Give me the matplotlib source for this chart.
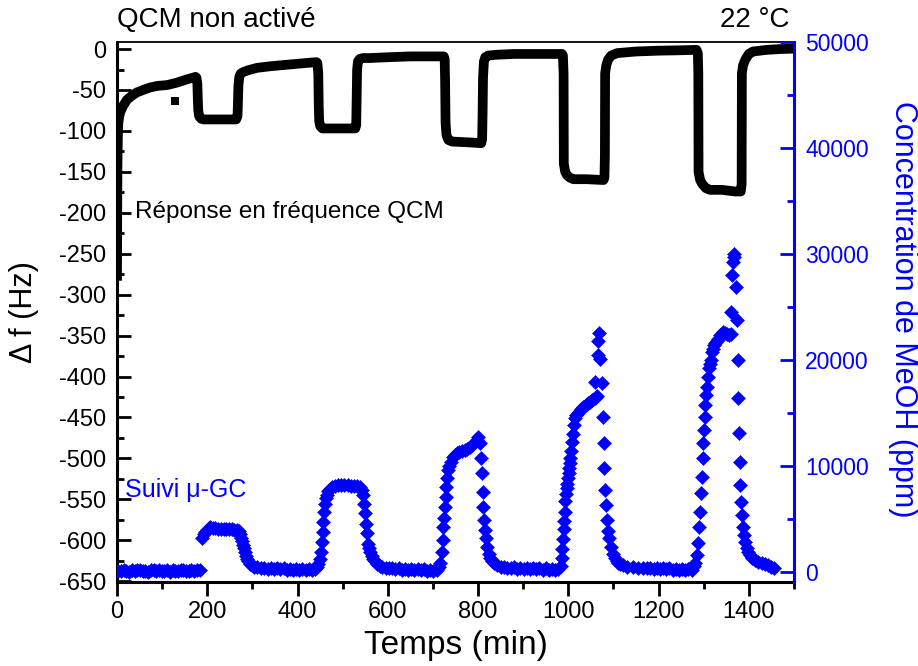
import numpy as np
import matplotlib.pyplot as plt
from matplotlib.ticker import MultipleLocator

plt.rcParams['font.family'] = ['Liberation Sans', 'DejaVu Sans']
plt.rcParams['axes.unicode_minus'] = False

# Réponse en fréquence QCM (min, Hz)
qcm_time = ([0, 0.5, 1, 2, 3, 5, 8, 13, 22, 33, 44, 58, 73, 90, 111, 133, 155, 168, 174]
            + [176, 178, 179, 180, 182, 186, 192, 220, 250, 264, 267, 268, 269, 271, 274, 280]
            + [290, 310, 340, 380, 420, 442]
            + [444, 446, 447, 448, 450, 455, 462, 500, 528, 530, 531, 532, 534, 538, 545]
            + [560, 600, 650, 700, 724]
            + [726, 727, 728, 730, 734, 742, 780, 807, 809, 810, 811, 813, 816, 822]
            + [840, 880, 930, 986]
            + [988, 989.5, 990, 993, 997, 1003, 1011, 1040, 1078, 1080, 1081, 1081.5, 1084, 1088, 1095, 1108]
            + [1150, 1200, 1250, 1284]
            + [1287, 1288, 1288.5, 1292, 1297, 1305, 1314, 1340, 1370, 1382, 1384, 1384.5, 1387, 1392, 1400, 1409]
            + [1440, 1470, 1500])
qcm_df = ([-283, -200, -140, -105, -90, -82, -76, -70, -62, -57, -53, -50, -47, -45, -44, -41, -37, -35, -34]
          + [-35, -42, -60, -75, -82, -85, -86, -86, -86, -86, -82, -65, -45, -34, -30, -28]
          + [-26, -23, -21, -19, -17, -16]
          + [-17, -30, -70, -88, -94, -97, -97, -97, -97, -93, -60, -25, -15, -12, -11]
          + [-11, -10, -9, -9, -9]
          + [-12, -40, -90, -105, -111, -113, -114, -115, -110, -80, -35, -15, -10, -8]
          + [-7, -6, -6, -6]
          + [-8, -30, -140, -150, -154, -157, -159, -159, -160, -157, -130, -30, -20, -13, -8, -5]
          + [-3, -2, -1.5, -1]
          + [-5, -30, -150, -160, -165, -170, -172, -172, -174, -174, -165, -30, -20, -13, -6, -3]
          + [-1, 0, 0.5])

# point isolé
spot_time = [128]
spot_df = [-64]

# Suivi µ-GC (min, ppm)
gc_time = ([3, 9, 15, 21, 27, 33, 39, 45, 51, 57, 63, 69, 75, 81, 87, 93, 99, 105, 111, 117,
            123, 129, 135, 141, 147, 153, 159, 165, 171, 177, 183]
           + [188, 192, 195, 199, 203, 206, 212, 218, 224, 230, 236, 242, 248, 254, 260, 266, 270,
              273, 275, 277, 279, 281, 284, 286, 288, 291, 295, 299, 304, 310, 318, 326, 334]
           + [341, 348, 355, 362, 369, 376, 383, 390, 397, 404, 411, 418, 425, 432, 439]
           + [444, 446, 449, 452, 454, 456, 457, 459, 461, 463, 465, 468, 472, 477, 483, 490, 497,
              504, 511, 518, 525, 532, 538, 542, 545, 547, 550, 552, 554, 556, 559, 561, 564, 567,
              571, 576, 582, 588, 595, 602]
           + [610, 617, 624, 631, 638, 645, 652, 659, 666, 673, 680, 687, 694, 701, 708]
           + [713, 716, 720, 722, 723, 725, 727, 728, 729, 731, 733, 736, 740, 745, 749, 753, 758,
              764, 770, 776, 782, 787, 793, 797, 800, 804, 806, 809, 811, 812, 813, 815, 818, 820,
              824, 827, 831, 836, 842, 850, 857, 864, 872]
           + [880, 887, 894, 901, 908, 915, 922, 929, 936, 943, 950, 957, 964, 971, 978]
           + [983, 986, 987, 988, 990, 991, 992, 993, 995, 997, 998, 999, 1001, 1002, 1003, 1004,
              1006, 1008, 1010, 1012, 1015, 1018, 1021, 1027, 1033, 1039, 1044, 1049, 1053, 1059,
              1062, 1064, 1059, 1075, 1066, 1070, 1066, 1068, 1077, 1078, 1079, 1081, 1084, 1086,
              1088, 1090, 1095, 1099, 1103, 1107, 1110, 1115, 1121, 1130, 1143, 1155, 1165, 1174]
           + [1182, 1189, 1196, 1203, 1210, 1217, 1224, 1231, 1238, 1245, 1252, 1259, 1266, 1273]
           + [1278, 1281, 1285, 1287, 1290, 1292, 1294, 1296, 1298, 1299, 1301, 1302, 1303, 1305,
              1307, 1310, 1312, 1314, 1316, 1318, 1321, 1323, 1326, 1329, 1332, 1336, 1340, 1343,
              1347, 1352, 1356, 1360, 1360, 1362, 1364, 1366, 1368, 1371, 1374, 1376, 1377, 1379,
              1380, 1381, 1382, 1384, 1388, 1389, 1392, 1395, 1399, 1403, 1408, 1414, 1421, 1428,
              1435, 1443, 1450, 1455])
gc_ppm = ([90, 20, 150, 60, 0, 140, 40, 110, 170, 10, 80, 0, 150, 100, 30, 160, 60, 10, 120, 0,
           150, 70, 20, 160, 100, 10, 80, 140, 30, 100, 160]
          + [3200, 3500, 3700, 3950, 4100, 4200, 4150, 4100, 4050, 4050, 4000, 4000, 4000, 4000,
             3950, 3950, 3800, 3500, 3200, 2900, 2500, 2200, 1800, 1500, 1200, 950, 750, 570, 450,
             380, 320, 290, 280]
          + [300, 220, 330, 200, 290, 170, 280, 160, 260, 140, 250, 130, 240, 120, 220]
          + [450, 750, 1200, 1800, 2800, 3700, 4700, 5600, 6400, 6900, 7200, 7600, 7800, 8000,
             8100, 8150, 8200, 8200, 8150, 8100, 8100, 8050, 8000, 7700, 7200, 6400, 5500, 4500,
             3600, 2600, 2200, 1800, 1500, 1200, 950, 750, 550, 420, 350, 300]
          + [320, 200, 290, 190, 260, 160, 240, 130, 220, 110, 200, 90, 180, 80, 170]
          + [400, 850, 1800, 3000, 4200, 5100, 6100, 7000, 8000, 8800, 9600, 10000, 10300, 10800,
             11000, 11200, 11300, 11400, 11500, 11600, 11750, 11900, 12200, 12400, 12700, 12100,
             10700, 9300, 7500, 6100, 4900, 3900, 3200, 2300, 1700, 1300, 1040, 800, 570, 450,
             400, 370, 350]
          + [380, 260, 370, 240, 340, 220, 330, 200, 310, 180, 290, 160, 270, 140, 250]
          + [500, 1230, 2170, 3100, 4060, 4800, 5580, 6700, 7300, 7840, 8300, 8800, 9300, 9730,
             10200, 10700, 11400, 12200, 13000, 13800, 14500, 14800, 15000, 15300, 15500, 15700,
             15900, 16050, 16200, 16400, 16500, 16600, 17900, 17800, 20400, 20100, 21800, 22500,
             14600, 12100, 9800, 7650, 6240, 4820, 3870, 3120, 2270, 1700, 1230, 1000, 850, 700,
             570, 450, 380, 340, 320, 300]
          + [340, 240, 330, 220, 310, 200, 300, 190, 280, 180, 270, 170, 260, 160]
          + [500, 850, 1600, 2700, 4200, 5600, 7400, 8900, 10700, 12100, 13400, 14600, 15700,
             16700, 17400, 18400, 19200, 19600, 20000, 20700, 21000, 21400, 21600, 21800, 22000,
             22300, 22400, 22600, 22500, 22400, 22300, 22400, 24500, 28000, 29250, 30000, 29700,
             26900, 23750, 20000, 16350, 13050, 10370, 8170, 6590, 5340, 4230, 3450, 2810, 2190,
             1800, 1560, 1300, 1090, 900, 770, 680, 610, 450, 320])

fig = plt.figure(figsize=(9.18, 6.66), dpi=100)
ax = fig.add_axes([117 / 918, 84 / 666, 677 / 918, 540 / 666])
ax2 = ax.twinx()

ax.plot(qcm_time, qcm_df, color='black', lw=7, solid_joinstyle='round',
        solid_capstyle='butt', zorder=3)
ax.plot(spot_time, spot_df, 's', color='black', ms=6, mew=0)
ax2.plot(gc_time, gc_ppm, 'D', color='blue', ms=7.2, mew=0.4, mec='blue', linestyle='none')

ax.set_xlim(0, 1500)
ax.set_ylim(-651, 8.6)
ax2.set_ylim(-990, 50000)

ax.xaxis.set_major_locator(MultipleLocator(200))
ax.xaxis.set_minor_locator(MultipleLocator(100))
ax.yaxis.set_major_locator(MultipleLocator(50))
ax.yaxis.set_minor_locator(MultipleLocator(25))
ax2.yaxis.set_major_locator(MultipleLocator(10000))
ax2.yaxis.set_minor_locator(MultipleLocator(5000))

ax.tick_params(axis='x', which='major', direction='out', length=10, width=2, labelsize=17, pad=4)
ax.tick_params(axis='x', which='minor', direction='out', length=5, width=2)
ax.tick_params(axis='y', which='major', direction='in', length=10, width=2, labelsize=17, pad=8)
ax.tick_params(axis='y', which='minor', direction='in', length=5, width=2)
ax2.tick_params(axis='y', which='major', direction='in', length=10, width=2, labelsize=16.5,
                pad=8, colors='blue')
ax2.tick_params(axis='y', which='minor', direction='in', length=5, width=2, colors='blue')

for side in ['left', 'bottom']:
    ax.spines[side].set_linewidth(2.2)
ax.spines['top'].set_linewidth(1.3)
ax.spines['right'].set_visible(False)
for side in ['left', 'bottom', 'top']:
    ax2.spines[side].set_visible(False)
ax2.spines['right'].set_color('blue')
ax2.spines['right'].set_linewidth(2.2)

ax.set_xlabel('Temps (min)', fontsize=24)
ax.xaxis.label.set_verticalalignment('center')
ax.xaxis.set_label_coords(0.5, -0.1185)
ax.set_ylabel('Δ f (Hz)', fontsize=22)
ax.yaxis.label.set_verticalalignment('center')
ax.yaxis.set_label_coords(-0.137, 0.5)
ax2.set_ylabel('Concentration de MeOH (ppm)', fontsize=22, color='blue', rotation=270)
ax2.yaxis.label.set_verticalalignment('center')
ax2.yaxis.set_label_coords(1.161, 0.505)

ax.text(40, -199, 'Réponse en fréquence QCM', fontsize=17.5, va='center')
ax.text(18, -539, 'Suivi μ-GC', fontsize=18, color='blue', va='center')
fig.text(117 / 918, 1 - 20 / 666, 'QCM non activé', fontsize=20, va='center', ha='left')
fig.text(790 / 918, 1 - 20 / 666, '22 °C', fontsize=20, va='center', ha='right')

fig.savefig('out.png', dpi=100)
